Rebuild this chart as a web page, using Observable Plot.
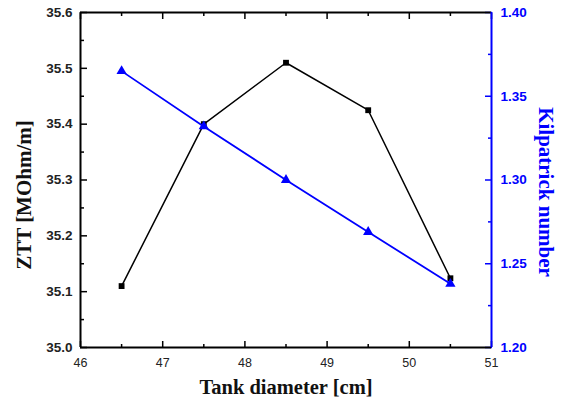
<!DOCTYPE html>
<html>
<head>
<meta charset="utf-8">
<script src="https://cdn.jsdelivr.net/npm/d3@7"></script>
<script src="https://cdn.jsdelivr.net/npm/@observablehq/plot@0.6"></script>
<style>
  html, body { margin: 0; padding: 0; background: #fff; }
  #chart svg { display: block; background: #fff; }
</style>
</head>
<body>
<div id="chart"></div>
<script>
// Tank diameter sweep: field impedance (left axis) and Kilpatrick number (right axis)
const diameters = [46.5, 47.5, 48.5, 49.5, 50.5];          // cm
const ztt = [35.11, 35.40, 35.51, 35.425, 35.124];          // MOhm/m
const kilpatrick = [1.365, 1.332, 1.300, 1.269, 1.238];

const xTicks = [46, 47, 48, 49, 50, 51];
const xMinorTicks = [46.5, 47.5, 48.5, 49.5, 50.5];
const zttTicks = [35.0, 35.1, 35.2, 35.3, 35.4, 35.5, 35.6];
const zttMinorTicks = [35.05, 35.15, 35.25, 35.35, 35.45, 35.55];
const kTicks = [1.20, 1.25, 1.30, 1.35, 1.40];
const kMinorTicks = [1.225, 1.275, 1.325, 1.375];

// The right axis shares the y scale through a linear map of its range onto the left one
const zttDomain = [35.0, 35.6];
const kDomain = [1.20, 1.40];
const kToY = k => zttDomain[0] + (k - kDomain[0]) * (zttDomain[1] - zttDomain[0]) / (kDomain[1] - kDomain[0]);
const yToK = y => kDomain[0] + (y - zttDomain[0]) * (kDomain[1] - kDomain[0]) / (zttDomain[1] - zttDomain[0]);

const zttData = diameters.map((d, i) => ({d, v: ztt[i]}));
const kData = diameters.map((d, i) => ({d, v: kToY(kilpatrick[i])}));

const BLUE = "#0000ff";
const sans = "'Liberation Sans', Arial, sans-serif";
const serif = "'Liberation Serif', 'Times New Roman', serif";

const chart = Plot.plot({
  width: 569,
  height: 403,
  marginLeft: 80,
  marginRight: 78,
  marginTop: 12,
  marginBottom: 56,
  x: {domain: [46, 51], axis: null},
  y: {domain: zttDomain, axis: null},
  marks: [
    // inward ticks on all four sides
    Plot.axisX(xTicks, {anchor: "bottom", tickSize: -6, fill: "none", stroke: "black", strokeWidth: 1.5}),
    Plot.axisX(xMinorTicks, {anchor: "bottom", tickSize: -3, fill: "none", stroke: "black", strokeWidth: 1.5}),
    Plot.axisX(xTicks, {anchor: "top", tickSize: -6, fill: "none", stroke: "black", strokeWidth: 1.5}),
    Plot.axisX(xMinorTicks, {anchor: "top", tickSize: -3, fill: "none", stroke: "black", strokeWidth: 1.5}),
    Plot.axisY(zttTicks, {anchor: "left", tickSize: -7, fill: "none", stroke: "black", strokeWidth: 1.5}),
    Plot.axisY(zttMinorTicks, {anchor: "left", tickSize: -4, fill: "none", stroke: "black", strokeWidth: 1.5}),
    Plot.axisY(kTicks.map(kToY), {anchor: "right", tickSize: -7, fill: "none", stroke: BLUE, strokeWidth: 1.5}),
    Plot.axisY(kMinorTicks.map(kToY), {anchor: "right", tickSize: -4, fill: "none", stroke: BLUE, strokeWidth: 1.5}),

    // tick labels
    Plot.axisX(xTicks, {anchor: "bottom", tickSize: 0, tickPadding: 11, label: null,
      tickFormat: d3.format("d"), fill: "#222", fontSize: 12.5, fontFamily: sans}),
    Plot.axisY(zttTicks, {anchor: "left", tickSize: 0, tickPadding: 8, label: null,
      tickFormat: d3.format(".1f"), fill: "#222", fontSize: 13.5, fontWeight: "bold", fontFamily: sans}),
    Plot.axisY(kTicks.map(kToY), {anchor: "right", tickSize: 0, tickPadding: 9, label: null,
      tickFormat: y => d3.format(".2f")(yToK(y)), fill: BLUE, fontSize: 13.5, fontWeight: "bold", fontFamily: sans}),

    // frame
    Plot.ruleY([zttDomain[0]], {stroke: "black", strokeWidth: 2}),
    Plot.ruleY([zttDomain[1]], {stroke: "black", strokeWidth: 2}),
    Plot.ruleX([46], {stroke: "black", strokeWidth: 2}),
    Plot.ruleX([51], {stroke: BLUE, strokeWidth: 2}),

    // series
    Plot.line(zttData, {x: "d", y: "v", stroke: "black", strokeWidth: 1.5}),
    Plot.dot(zttData, {x: "d", y: "v", symbol: "square", r: 3.3, fill: "black", stroke: "none"}),
    Plot.line(kData, {x: "d", y: "v", stroke: BLUE, strokeWidth: 1.8}),
    Plot.dot(kData, {x: "d", y: "v", symbol: "triangle", r: 3.8, fill: BLUE, stroke: "none"}),

    // axis titles
    Plot.text(["Tank diameter [cm]"], {frameAnchor: "bottom", dy: 40, lineAnchor: "middle",
      fontSize: 20.5, fontWeight: "bold", fontFamily: serif, fill: "#111"}),
    Plot.text(["ZTT [MOhm/m]"], {frameAnchor: "left", dx: -56, dy: 15, rotate: -90, textAnchor: "middle",
      lineAnchor: "middle", fontSize: 21, fontWeight: "bold", fontFamily: serif, fill: "#111"}),
    Plot.text(["Kilpatrick number"], {frameAnchor: "right", dx: 54, dy: 12, rotate: 90, textAnchor: "middle",
      lineAnchor: "middle", fontSize: 21, fontWeight: "bold", fontFamily: serif, fill: BLUE})
  ]
});

document.getElementById("chart").appendChild(chart);
</script>
</body>
</html>
